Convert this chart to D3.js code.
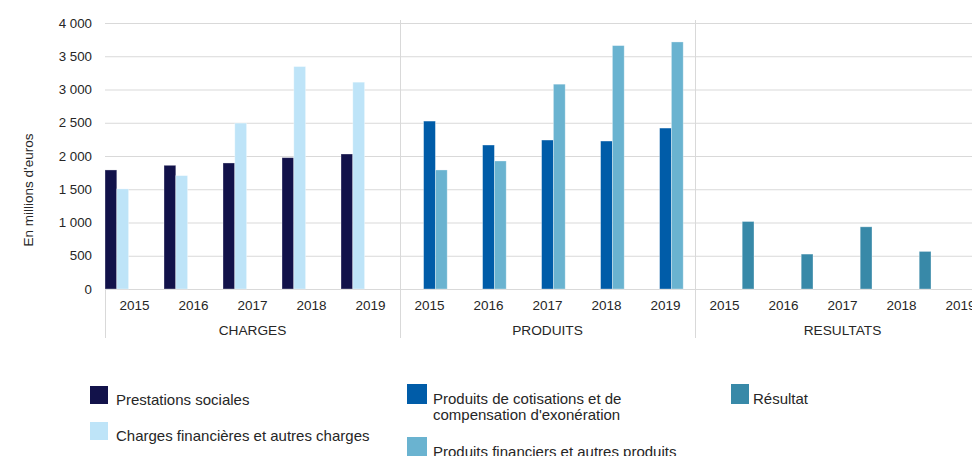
<!DOCTYPE html>
<html>
<head>
<meta charset="utf-8">
<script src="https://cdn.jsdelivr.net/npm/d3@7"></script>
<style>
  body { margin: 0; background: #fff; }
  svg { display: block; font-family: "Liberation Sans", Arial, sans-serif; }
</style>
</head>
<body>
<div id="chart"></div>
<script>
// Chart data
const groups = ["CHARGES", "PRODUITS", "RESULTATS"];
const years = ["2015", "2016", "2017", "2018", "2019"];
const seriesNames = [
  "Prestations sociales",
  "Charges financières et autres charges",
  "Produits de cotisations et de compensation d'exonération",
  "Produits financiers et autres produits",
  "Résultat"
];
// values per series, indexed [group][year] ; null = no bar
const prestations = [[1790, 1860, 1895, 1975, 2030], null, null];
const chargesFin = [[1505, 1705, 2495, 3345, 3110], null, null];
const cotisations = [null, [2525, 2165, 2240, 2225, 2420], null];
const produitsFin = [null, [1790, 1925, 3080, 3660, 3715], null];
const resultat = [null, null, [1015, 525, 935, 565, 0]];
const yTicks = [0, 500, 1000, 1500, 2000, 2500, 3000, 3500, 4000];

const colors = ["#12124a", "#bee4f8", "#005ca8", "#6ab3d0", "#3889a8"];
const allSeries = [prestations, chargesFin, cotisations, produitsFin, resultat];

const width = 972;
const height = 456;
const margin = {left: 105, top: 23, bottom: 289};
const groupWidth = 295;

const svg = d3.select("#chart")
  .append("svg")
  .attr("width", width)
  .attr("height", height);

// scales
const yScale = d3.scaleLinear()
  .domain([0, 4000])
  .range([margin.bottom, margin.top]);

const keys = [];
groups.forEach(g => years.forEach(y => keys.push(g + "|" + y)));

const x0 = d3.scaleBand()
  .domain(keys)
  .range([margin.left, margin.left + groupWidth * groups.length]);

const x1 = d3.scaleBand()
  .domain(d3.range(seriesNames.length))
  .range([0, x0.bandwidth()]);

const gridColor = "#d9d9d9";
const textColor = "#262626";

// horizontal gridlines
svg.append("g")
  .selectAll("line")
  .data(yTicks)
  .enter()
  .append("line")
    .attr("x1", margin.left)
    .attr("x2", width)
    .attr("y1", d => yScale(d) + 0.5)
    .attr("y2", d => yScale(d) + 0.5)
    .attr("stroke", gridColor)
    .attr("stroke-width", 1);

// group separators
const groupEdges = d3.range(groups.length + 1).map(i => margin.left + i * groupWidth);
svg.append("g")
  .selectAll("line")
  .data(groupEdges)
  .enter()
  .append("line")
    .attr("x1", d => Math.round(d) + 0.5)
    .attr("x2", d => Math.round(d) + 0.5)
    .attr("y1", (d, i) => i === 0 ? margin.bottom : margin.top - 3)
    .attr("y2", 338)
    .attr("stroke", gridColor)
    .attr("stroke-width", 1);

// y tick labels
svg.append("g")
  .selectAll("text")
  .data(yTicks)
  .enter()
  .append("text")
    .attr("x", 92)
    .attr("y", d => yScale(d) + 4.5)
    .attr("text-anchor", "end")
    .attr("font-size", "13.3px")
    .attr("fill", textColor)
    .text(d => d3.format(",")(d).replace(",", " "));

// y axis title
svg.append("text")
  .attr("transform", "translate(33,190) rotate(-90)")
  .attr("text-anchor", "middle")
  .attr("font-size", "13.5px")
  .attr("fill", textColor)
  .text("En millions d'euros");

// year labels
svg.append("g")
  .selectAll("text")
  .data(keys)
  .enter()
  .append("text")
    .attr("x", d => x0(d) + x0.bandwidth() / 2)
    .attr("y", 310)
    .attr("text-anchor", "middle")
    .attr("font-size", "13.5px")
    .attr("fill", textColor)
    .text(d => d.split("|")[1]);

// group labels
svg.append("g")
  .selectAll("text")
  .data(groups)
  .enter()
  .append("text")
    .attr("x", (d, i) => margin.left + (i + 0.5) * groupWidth)
    .attr("y", 335)
    .attr("text-anchor", "middle")
    .attr("font-size", "13.7px")
    .attr("fill", textColor)
    .text(d => d);

// bars
const barData = [];
allSeries.forEach((s, si) => {
  s.forEach((vals, gi) => {
    if (!vals) return;
    vals.forEach((v, yi) => {
      if (v > 0) barData.push({series: si, key: groups[gi] + "|" + years[yi], value: v});
    });
  });
});

svg.append("g")
  .selectAll(".bar")
  .data(barData)
  .enter()
  .append("rect")
    .attr("class", "bar")
    .attr("x", d => x0(d.key) + x1(d.series))
    .attr("y", d => yScale(d.value))
    .attr("width", x1.bandwidth())
    .attr("height", d => margin.bottom - yScale(d.value))
    .attr("fill", d => colors[d.series])
    .attr("stroke", "#ffffff")
    .attr("stroke-opacity", 0.4)
    .attr("stroke-width", 0.8);

// legend
const legendItems = [
  {s: 0, x: 90, y: 386, w: 18, h: 18, tx: 26, lines: ["Prestations sociales"]},
  {s: 1, x: 90, y: 422, w: 18, h: 18, tx: 26, lines: ["Charges financières et autres charges"]},
  {s: 2, x: 407, y: 384, w: 20, h: 20, tx: 26, lines: ["Produits de cotisations et de", "compensation d'exonération"]},
  {s: 3, x: 407, y: 437, w: 20, h: 20, tx: 26, lines: ["Produits financiers et autres produits"]},
  {s: 4, x: 731, y: 384, w: 18, h: 20, tx: 22, lines: ["Résultat"]}
];

const legend = svg.append("g")
  .selectAll("g")
  .data(legendItems)
  .enter()
  .append("g")
    .attr("transform", d => `translate(${d.x},${d.y})`);

legend.append("rect")
  .attr("width", d => d.w)
  .attr("height", d => d.h)
  .attr("fill", d => colors[d.s]);

legend.append("text")
  .attr("y", d => d.s >= 2 ? 20 : 18.5)
  .attr("font-size", "15px")
  .attr("fill", textColor)
  .each(function(d) {
    d3.select(this).selectAll("tspan")
      .data(d.lines)
      .enter()
      .append("tspan")
        .attr("x", d.tx)
        .attr("dy", (l, i) => i === 0 ? 0 : 16)
        .text(l => l);
  });
</script>
</body>
</html>
